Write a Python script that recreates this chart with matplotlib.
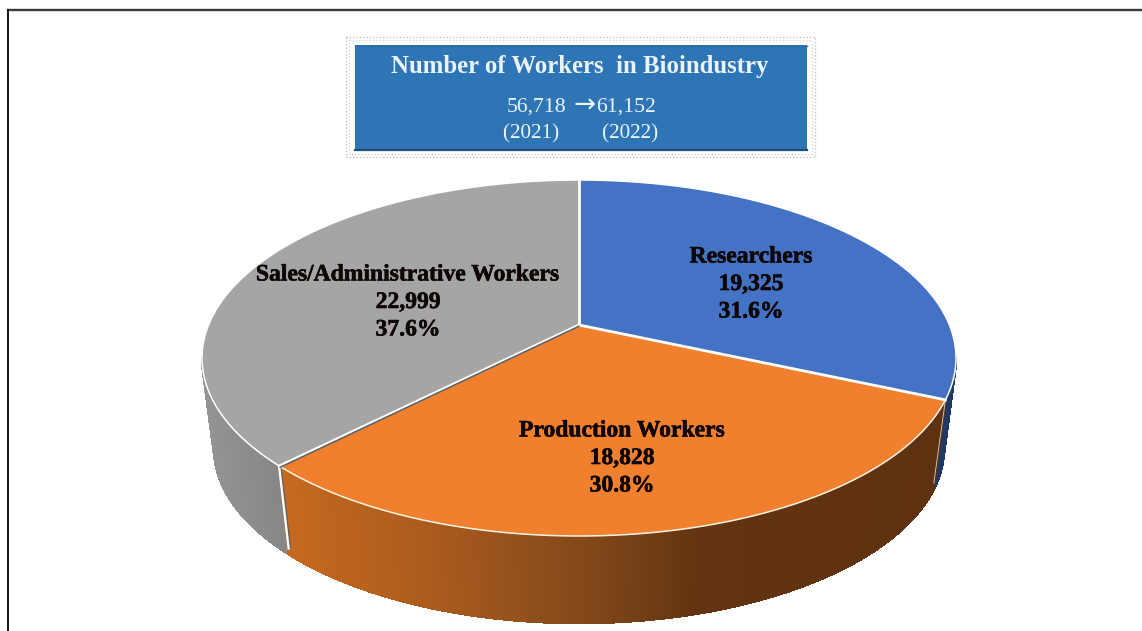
import numpy as np
import matplotlib
matplotlib.use('Agg')
import matplotlib.pyplot as plt
import matplotlib.patheffects as pe
from matplotlib.patches import Rectangle

# data
categories = ['Researchers', 'Production Workers', 'Sales/Administrative Workers']
workers = [19325, 18828, 22999]
slice_colors = ['#4472C4', '#F07F2E', '#A5A5A5']
title = 'Number of Workers  in Bioindustry'
total_from = '56,718'
total_to = '61,152'
year_line = '(2021)        (2022)'

plt.rcParams['font.family'] = ['Liberation Serif', 'DejaVu Serif']

fig = plt.figure(figsize=(11.42, 6.31), dpi=100)
ax = fig.add_axes([0, 0, 1, 1])
ax.set_xlim(0, 1142)
ax.set_ylim(631, 0)
ax.axis('off')

# frame, only top and left
ax.plot([7, 1142], [10, 10], color='#3a3a3a', lw=1.7, solid_capstyle='butt')
ax.plot([7.5, 7.5], [9, 631], color='black', lw=1.3, solid_capstyle='butt')

# ellipse of the pie top and of the pie bottom (pixels)
cx = 579
top_cy, top_rx, top_ry = 358, 377, 178
bot_cy, bot_rx, bot_ry = 448, 365, 175
k = (top_cy - 325) / top_ry  # perspective, moves the apex above the ellipse middle


def rim_phi(frac):
    # share of the pie (clockwise from 12 o'clock) -> angle on the drawn ellipse
    t = 2 * np.pi * np.asarray(frac)
    u, v = np.sin(t), np.cos(t)
    d = 1 + k * v
    return np.arctan2(-(v + k) / d, u * np.sqrt(1 - k ** 2) / d)


def top_xy(phi):
    return cx + top_rx * np.cos(phi), top_cy + top_ry * np.sin(phi)


def bot_xy(phi):
    return cx + bot_rx * np.cos(phi), bot_cy + bot_ry * np.sin(phi)


def side_strip(p0, p1, color):
    x0, y0 = top_xy(p0)
    x1, y1 = top_xy(p1)
    x2, y2 = bot_xy(p1)
    x3, y3 = bot_xy(p0)
    ax.fill([x0, x1, x2, x3], [y0, y1, y2, y3], facecolor=color, edgecolor=color, lw=1.2,
            antialiased=False, zorder=2)


def shade(stops, x):
    xs = [s[0] for s in stops]
    rgb = np.array([matplotlib.colors.to_rgb(s[1]) for s in stops])
    return tuple(np.interp(x, xs, rgb[:, i]) for i in range(3))


values = np.array(workers, dtype=float)
edges = np.concatenate([[0], np.cumsum(values) / values.sum()])
shares = values / values.sum() * 100

orange_stops = [(282, '#C4691F'), (420, '#AD5C1E'), (580, '#83491A'), (700, '#633411'), (950, '#5E3110')]
gray_stops = [(205, '#939393'), (290, '#848484')]

# side walls, front half of the ellipse only
phi_blue = float(rim_phi(edges[1]))
phi_gray = float(rim_phi(edges[2]))
gray_a = np.linspace(phi_gray, np.pi, 60)
for p0, p1 in zip(gray_a[:-1], gray_a[1:]):
    side_strip(p0, p1, shade(gray_stops, top_xy((p0 + p1) / 2)[0]))
navy_a = np.linspace(0, phi_blue, 12)
for p0, p1 in zip(navy_a[:-1], navy_a[1:]):
    side_strip(p0, p1, '#1F3864')
orange_a = np.linspace(phi_blue, phi_gray, 200)
for p0, p1 in zip(orange_a[:-1], orange_a[1:]):
    side_strip(p0, p1, shade(orange_stops, top_xy((p0 + p1) / 2)[0]))

# seams on the wall
tx, ty = top_xy(phi_blue)
bx, by = bot_xy(phi_blue)
ax.plot([tx, bx], [ty, by - 6], color='#c9d3e6', lw=0.6, zorder=3)
tx, ty = top_xy(phi_gray)
bx, by = bot_xy(phi_gray)
ax.plot([tx, bx], [ty, by - 6], color='white', lw=2.0, zorder=3)
ax.plot([tx + 1.6, bx + 1.6], [ty, by - 6], color='#5b6168', lw=0.9, zorder=3)

# top face
apex = (cx, top_cy - k * top_ry)
for i, color in enumerate(slice_colors):
    phis = np.unwrap(rim_phi(np.linspace(edges[i], edges[i + 1], 200)))
    xs, ys = top_xy(phis)
    ax.fill(np.r_[apex[0], xs], np.r_[apex[1], ys], facecolor=color, edgecolor='none', zorder=4)
    edge_col = '#FFF3E0' if i == 1 else 'white'
    ax.plot(xs, ys, color=edge_col, lw=1.1, zorder=5)

# spokes
for f in edges[:-1]:
    rx_, ry_ = top_xy(float(rim_phi(f)))
    ax.plot([apex[0], rx_], [apex[1], ry_], color='white', lw=2.0, zorder=6)
rx_, ry_ = top_xy(phi_gray)
ax.plot([apex[0], rx_ + 1], [apex[1] + 1.2, ry_ + 1.2], color='#566068', lw=1.1, zorder=7)

# slice labels
heavy = [pe.withStroke(linewidth=0.4, foreground='#0d0604')]
label_pos = [(751, 257), (622, 431), (408, 275)]
for name, val, sh, (lx, ly) in zip(categories, workers, shares, label_pos):
    lines = [name, f'{val:,}', f'{sh:.1f}%']
    for j, line in enumerate(lines):
        ax.text(lx, ly + j * 27.5, line, ha='center', va='center', fontsize=17,
                fontweight='bold', color='#0d0604', zorder=8, path_effects=heavy)

# title box, dotted halo then the blue panel
for inset, col in [(0, '#c4c4c4'), (3, '#d8d8d8')]:
    ax.add_patch(Rectangle((346 + inset, 37 + inset), 469 - 2 * inset, 120 - 2 * inset, fill=False,
                           edgecolor=col, lw=1.0, ls=(0, (1, 1.4)), zorder=1))
ax.add_patch(Rectangle((355, 45), 452, 106, facecolor='#2E75B6', edgecolor='none', zorder=2))
ax.plot([355, 807], [45.5, 45.5], color='#2a6cae', lw=1.0, zorder=3)
ax.plot([355, 807], [150, 150], color='#1F4E79', lw=1.6, zorder=3)

box_text = '#EAF3FA'
ax.text(580, 66, title, ha='center', va='center', fontsize=17.8, fontweight='bold', color=box_text, zorder=4)
ax.text(536.5, 107, total_from, ha='center', va='center', fontsize=15.6, color=box_text, zorder=4)
ax.text(584.5, 106, '\u2192', ha='center', va='center', fontsize=19, color=box_text, zorder=4,
        family='DejaVu Sans')
ax.text(626, 107, total_to, ha='center', va='center', fontsize=15.6, color=box_text, zorder=4)
ax.text(581, 134, year_line, ha='center', va='center', fontsize=15.3, color=box_text, zorder=4)

fig.savefig('out.png', dpi=100)
